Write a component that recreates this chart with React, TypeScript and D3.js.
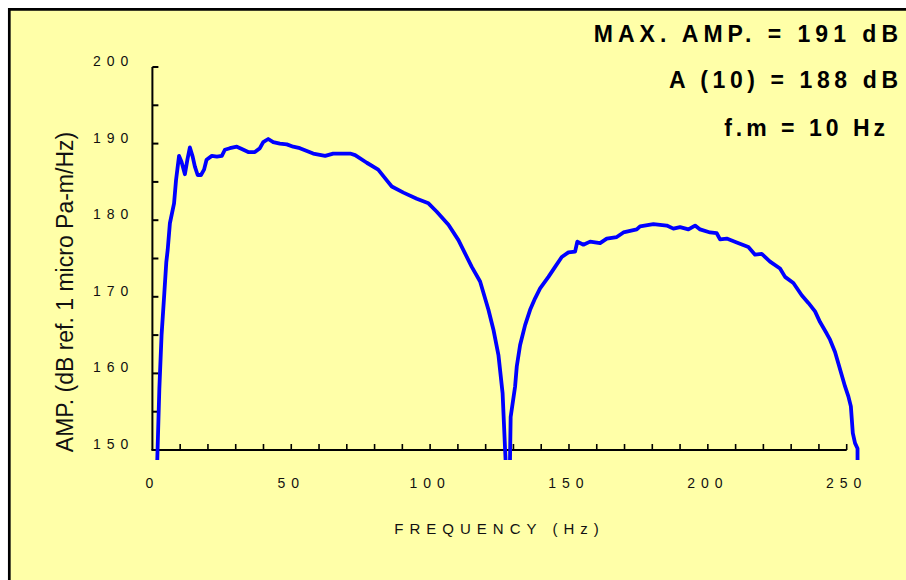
import React from "react";
import * as d3 from "d3";

const freqHz = [
  1.7, 2.5, 3.3, 4.3, 5.0, 5.5, 6.3, 7.8, 8.5, 9.6, 10.5, 11.7, 12.6, 13.5, 14.5, 15.3, 16.3, 17.5, 18.6,
  19.5, 21.4, 23.2, 25.0, 26.1, 27.9, 30.4, 32.2, 34.5, 36.9, 38.7, 39.9, 41.7, 43.5, 45.9, 48.4, 50.7,
  53.1, 57.9, 62.2, 65.1, 71.2, 73.0, 77.2, 81.3, 84.4, 86.2, 90.4, 95.2, 99.4, 102.4, 106.6, 110.2,
  115.0, 118.0, 121.0, 122.8, 124.6, 126.1, 127.0, 127.4, 128.7, 128.8, 129.0, 130.6, 131.2, 132.4,
  134.2, 136.0, 137.8, 139.6, 142.6, 145.0, 147.4, 149.8, 152.2, 153.0, 155.2, 157.6, 161.2, 163.6,
  167.2, 169.6, 174.4, 175.6, 180.4, 185.2, 187.6, 190.0, 193.0, 195.4, 197.2, 200.8, 203.2, 204.4,
  206.8, 210.4, 214.6, 217.0, 219.4, 222.4, 226.0, 227.8, 230.8, 233.8, 236.2, 238.6, 240.4, 242.8,
  244.0, 245.8, 247.0, 248.2, 249.4, 250.6, 251.5, 252.2, 253.0, 253.9, 253.9,
];

const ampDb = [
  148.0, 158.0, 165.0, 170.5, 174.5, 176.1, 179.6, 182.2, 185.2, 188.4, 187.6, 186.0, 187.9, 189.5, 188.3,
  187.0, 185.9, 185.9, 186.6, 187.9, 188.4, 188.3, 188.4, 189.2, 189.4, 189.6, 189.3, 188.9, 188.9, 189.4,
  190.2, 190.6, 190.2, 190.0, 189.9, 189.6, 189.4, 188.7, 188.4, 188.7, 188.7, 188.5, 187.5, 186.6, 185.2,
  184.4, 183.6, 182.8, 182.2, 181.1, 179.4, 177.4, 173.9, 172.0, 168.3, 165.7, 162.4, 157.4, 150.0, 147.0,
  147.0, 149.6, 154.3, 158.3, 160.9, 163.7, 166.3, 168.3, 169.8, 171.1, 172.6, 173.9, 175.2, 175.8, 175.9,
  177.2, 176.8, 177.2, 177.0, 177.6, 177.8, 178.4, 178.8, 179.2, 179.5, 179.3, 178.9, 179.1, 178.8, 179.3,
  178.8, 178.4, 178.3, 177.5, 177.6, 177.1, 176.5, 175.5, 175.6, 174.6, 173.7, 172.6, 171.8, 170.2, 169.2,
  168.1, 166.7, 165.2, 164.4, 162.8, 161.3, 159.8, 158.3, 157.0, 155.7, 152.2, 150.9, 150.2, 147.0,
];

const xTickLabels = [0, 50, 100, 150, 200, 250];
const yTickLabels = [150, 160, 170, 180, 190, 200];
const headerLines = ["MAX. AMP. = 191 dB", "A (10) = 188 dB", "f.m = 10 Hz"];
const xTitle = "FREQUENCY (Hz)";
const yTitle = "AMP. (dB ref. 1 micro Pa-m/Hz)";

export default function App() {
  const W = 906;
  const H = 580;
  const x = d3.scaleLinear().domain([0, 250]).range([152.4, 846.7]);
  const y = d3.scaleLinear().domain([150, 200]).range([450, 67]);

  const pts: [number, number][] = freqHz.map((f, i) => [f, ampDb[i]]);
  const line = d3
    .line<[number, number]>()
    .x((d) => x(d[0]))
    .y((d) => y(d[1]));

  const xMinor = d3.range(10, 251, 10);
  const yMinor = d3.range(155, 201, 5);
  const font = "'Liberation Sans', Arial, sans-serif";

  const headerPos = [
    { right: 898, base: 42, ls: 5 },
    { right: 898, base: 88, ls: 4.6 },
    { right: 885, base: 136, ls: 4 },
  ];

  return (
    <svg
      width={W}
      height={H}
      style={{ position: "absolute", left: 0, top: 0, display: "block" }}
    >
      <defs>
        <clipPath id="plotClip">
          <rect x={150} y={55} width={720} height={405} />
        </clipPath>
      </defs>
      <rect x={0} y={0} width={W} height={H} fill="#ffffff" />
      <rect x={8} y={8} width={W - 8} height={H - 8} fill="#FFFFA8" />
      <path d={`M9.3,${H} L9.3,9.3 L${W},9.3`} fill="none" stroke="#000" strokeWidth={2.7} />

      {headerLines.map((t, i) => (
        <text
          key={t}
          x={headerPos[i].right + headerPos[i].ls}
          y={headerPos[i].base}
          textAnchor="end"
          fontFamily={font}
          fontWeight="bold"
          fontSize={23}
          letterSpacing={headerPos[i].ls}
          fill="#000"
        >
          {t}
        </text>
      ))}

      <line x1={x(0)} x2={x(0)} y1={y(200)} y2={y(150)} stroke="#000" strokeWidth={2} />
      <line x1={x(0) - 1} x2={x(250)} y1={y(150)} y2={y(150)} stroke="#000" strokeWidth={2} />
      {yMinor.map((v) => (
        <line key={"yt" + v} x1={x(0)} x2={x(0) + 6} y1={y(v)} y2={y(v)} stroke="#000" strokeWidth={2} />
      ))}
      {xMinor.map((v) => (
        <line key={"xt" + v} x1={x(v)} x2={x(v)} y1={y(150)} y2={y(150) - 6} stroke="#000" strokeWidth={1.6} />
      ))}

      {yTickLabels.map((v) => (
        <text
          key={"yl" + v}
          x={x(0) - 18}
          y={y(v) - 1}
          textAnchor="end"
          fontFamily={font}
          fontSize={14}
          letterSpacing={6}
          fill="#111"
        >
          {v}
        </text>
      ))}
      {xTickLabels.map((v) => (
        <text
          key={"xl" + v}
          x={x(v)}
          y={488}
          textAnchor="middle"
          fontFamily={font}
          fontSize={14}
          letterSpacing={6}
          fill="#111"
        >
          {v}
        </text>
      ))}

      <text
        x={(x(0) + x(250)) / 2}
        y={534}
        textAnchor="middle"
        fontFamily={font}
        fontSize={15}
        letterSpacing={6}
        fill="#111"
      >
        {xTitle}
      </text>
      <text
        transform="translate(73,292) rotate(-90)"
        textAnchor="middle"
        fontFamily={font}
        fontSize={23}
        fill="#111"
      >
        {yTitle}
      </text>

      <g clipPath="url(#plotClip)">
        <path d={line(pts) || ""} fill="none" stroke="#0000FF" strokeWidth={3.8} strokeLinejoin="round" />
      </g>
    </svg>
  );
}
